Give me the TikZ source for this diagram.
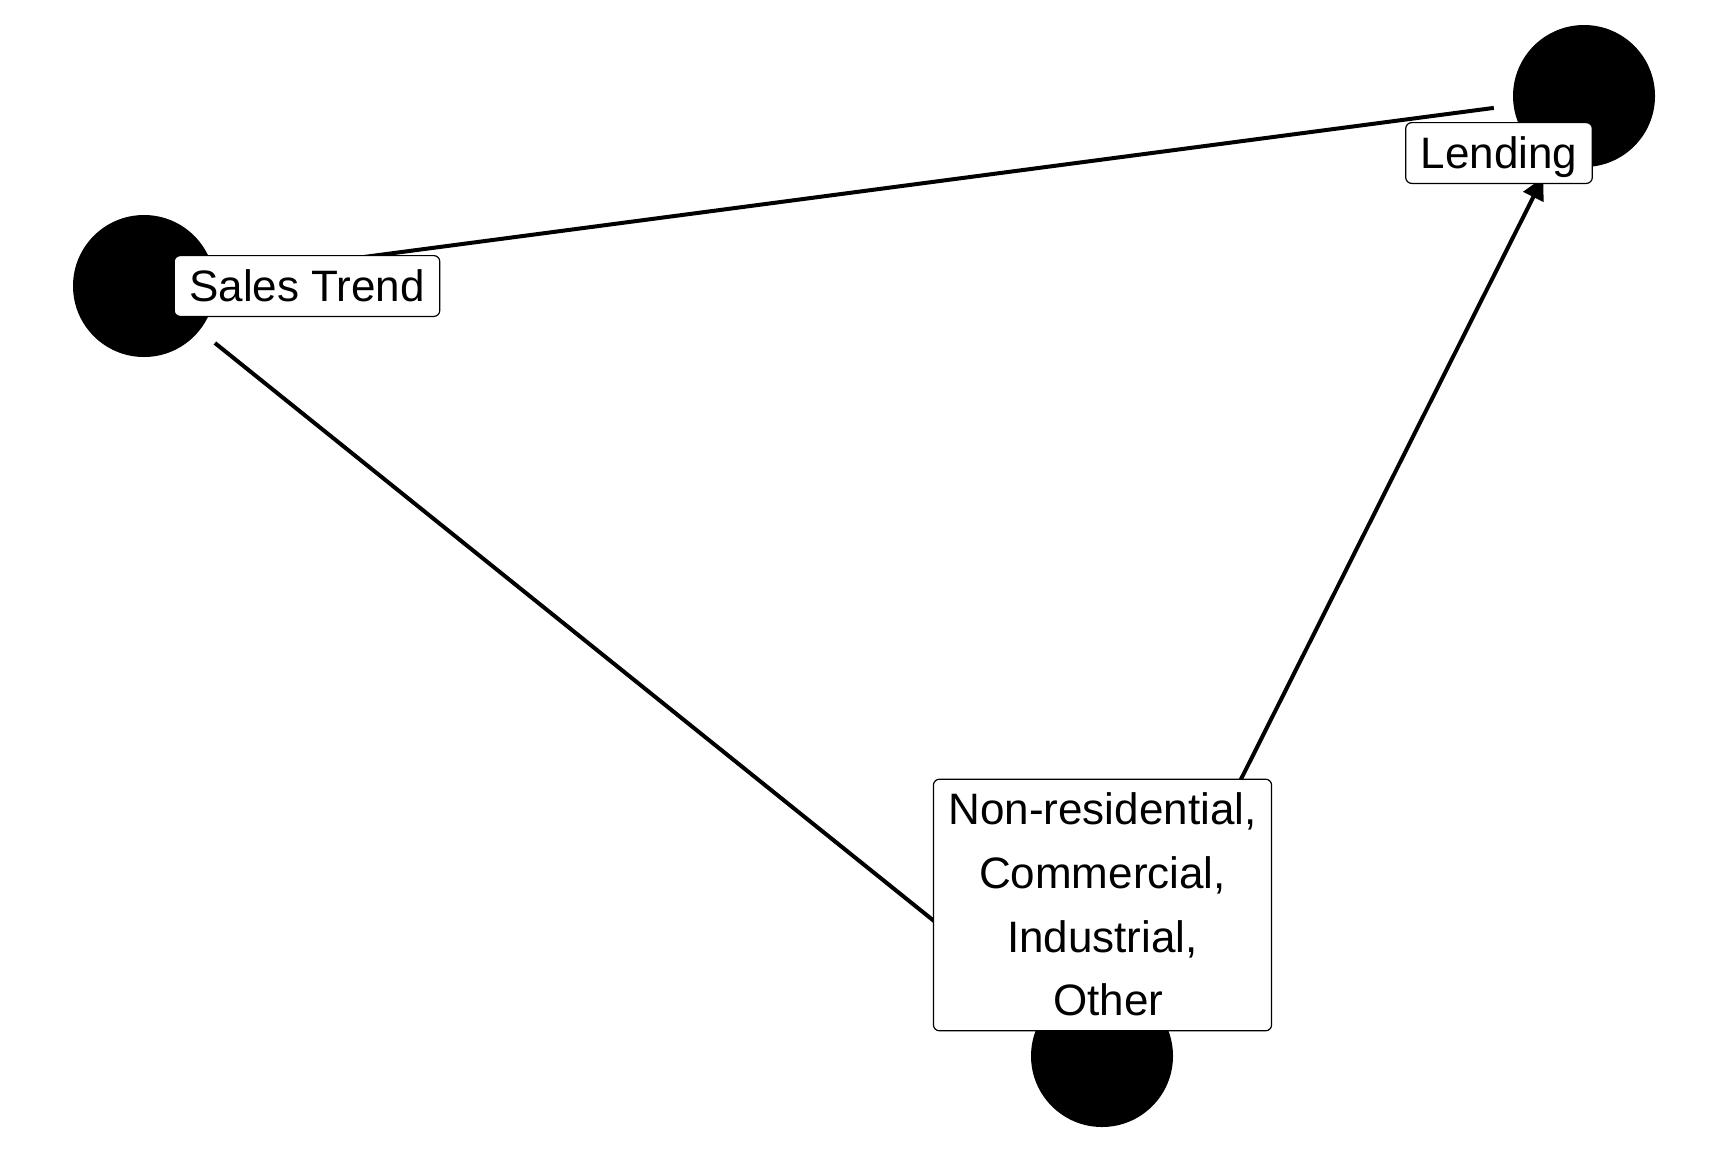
\documentclass[tikz,border=0pt]{standalone}
\usepackage{fontspec}
\setmainfont{Liberation Sans}
\usetikzlibrary{arrows.meta, positioning}
\newcommand{\tagstrut}{\rule[-4.6pt]{0pt}{24.4pt}}
\tikzstyle{dot} = [circle, fill=black, minimum size=71pt, inner sep=0pt, outer sep=0pt]
\tikzstyle{tag} = [rectangle, rounded corners=3pt, draw=black, line width=0.6pt, fill=white, align=center, font=\fontsize{22}{31.8}\selectfont, inner xsep=7.5pt, inner ysep=3pt, execute at begin node=\tagstrut, execute at end node=\tagstrut]
\tikzstyle{link} = [line width=2pt, shorten <=10pt, shorten >=10pt]
\tikzstyle{arrow} = [link, -{Triangle[length=11pt, width=11pt]}]

\begin{document}
\begin{tikzpicture}[x=0.5pt, y=-0.5pt]
\useasboundingbox (0,0) rectangle (1728,1152);

\node (sales) [dot] at (144,286) {};
\node (lending) [dot] at (1584,96) {};
\node (nonres) [dot] at (1102,1056) {};

\draw [link] (sales) -- (lending);
\draw [link] (sales) -- (nonres);
\draw [arrow] (nonres) -- (lending);

\node (salestag) [tag] at (307,286) {Sales Trend};
\node (lendingtag) [tag] at (1499,153) {Lending};
\node (nonrestag) [tag] at (1102.5,905) {\tagstrut Non-residential,\\ Commercial,\\ Industrial,\\ \hspace{6pt}Other\tagstrut};

\end{tikzpicture}
\end{document}
